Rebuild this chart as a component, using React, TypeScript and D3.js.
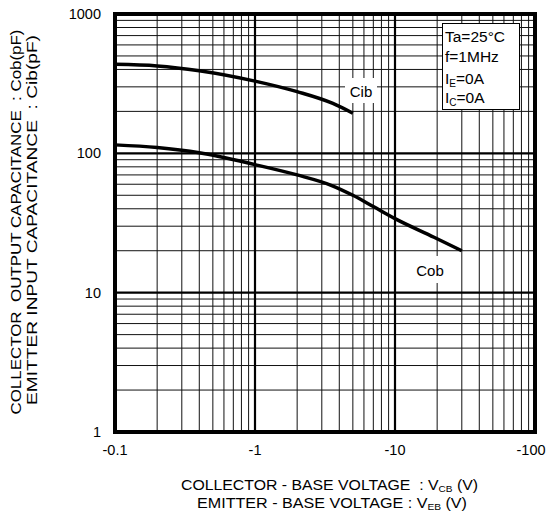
import React from "react";
import * as d3 from "d3";

// Capacitance vs. reverse voltage (magnitudes; axis labels carry the minus sign)
const cibVoltage = [0.1, 0.2, 0.4, 1, 2, 3.6, 5];
const cibValues = [435, 424, 392, 330, 277, 228, 194];
const cobVoltage = [0.1, 0.2, 0.4, 1, 2, 3.5, 5, 7, 10, 19, 30];
const cobValues = [115, 110, 101, 83, 70, 59, 50, 41.5, 34, 25, 20];

const xTickValues = [0.1, 1, 10, 100];
const xTickLabels = ["-0.1", "-1", "-10", "-100"];
const yTickValues = [1, 10, 100, 1000];
const yTickLabels = ["1", "10", "100", "1000"];

const conditions = ["Ta=25°C", "f=1MHz"];

const W = 552;
const H = 520;
const plot = { left: 115, right: 535, top: 14, bottom: 432 };
const FONT = "'Liberation Sans', Arial, sans-serif";

export default function App() {
  const x = d3.scaleLog().domain([0.1, 100]).range([plot.left, plot.right]);
  const y = d3.scaleLog().domain([1, 1000]).range([plot.bottom, plot.top]);

  const minorX: number[] = [];
  for (let d = 0.1; d < 100; d *= 10)
    for (let k = 2; k <= 9; k++) minorX.push(+(d * k).toPrecision(3));
  const minorY: number[] = [];
  for (let d = 1; d < 1000; d *= 10)
    for (let k = 2; k <= 9; k++) minorY.push(d * k);

  const line = d3
    .line<[number, number]>()
    .x((d) => x(d[0]))
    .y((d) => y(d[1]))
    .curve(d3.curveMonotoneX);

  const cib = line(cibVoltage.map((v, i) => [v, cibValues[i]] as [number, number]));
  const cob = line(cobVoltage.map((v, i) => [v, cobValues[i]] as [number, number]));

  return (
    <svg
      width={W}
      height={H}
      style={{ position: "absolute", left: 0, top: 0, background: "#fff" }}
      fontFamily={FONT}
    >
      <rect width={W} height={H} fill="#fff" />
      {/* minor grid */}
      {minorX.map((v) => (
        <line key={"mx" + v} x1={x(v)} x2={x(v)} y1={plot.top} y2={plot.bottom} stroke="#111" strokeWidth={1} />
      ))}
      {minorY.map((v) => (
        <line key={"my" + v} x1={plot.left} x2={plot.right} y1={y(v)} y2={y(v)} stroke="#111" strokeWidth={1} />
      ))}
      {/* decade grid */}
      {xTickValues.map((v) => (
        <line key={"Mx" + v} x1={x(v)} x2={x(v)} y1={plot.top} y2={plot.bottom} stroke="#000" strokeWidth={2.2} />
      ))}
      {yTickValues.map((v) => (
        <line key={"My" + v} x1={plot.left} x2={plot.right} y1={y(v)} y2={y(v)} stroke="#000" strokeWidth={2.2} />
      ))}

      {/* curves */}
      <path d={cib ?? ""} fill="none" stroke="#000" strokeWidth={3.5} />
      <path d={cob ?? ""} fill="none" stroke="#000" strokeWidth={3.5} />

      {/* curve labels */}
      <rect x={345} y={78} width={32} height={25} fill="#fff" />
      <text x={361} y={97} fontSize={15} textAnchor="middle">Cib</text>
      <rect x={412} y={256} width={37} height={27} fill="#fff" />
      <text x={430} y={276} fontSize={15} textAnchor="middle">Cob</text>

      {/* conditions box */}
      <rect x={442.5} y={23.5} width={77} height={86} fill="#fff" stroke="#000" strokeWidth={1} />
      {conditions.map((t, i) => (
        <text key={t} x={445} y={42 + i * 20} fontSize={15.5}>{t}</text>
      ))}
      <text x={445} y={84} fontSize={15.5}>
        I<tspan fontSize={10} dy={3}>E</tspan>
        <tspan dy={-3}>=0A</tspan>
      </text>
      <text x={445} y={103} fontSize={15.5}>
        I<tspan fontSize={10} dy={3}>C</tspan>
        <tspan dy={-3}>=0A</tspan>
      </text>

      {/* frame */}
      <rect
        x={plot.left}
        y={plot.top}
        width={plot.right - plot.left}
        height={plot.bottom - plot.top}
        fill="none"
        stroke="#000"
        strokeWidth={4}
      />

      {/* y tick labels */}
      {yTickValues.map((v, i) => (
        <text key={"yl" + v} x={101} y={y(v) + 5} fontSize={14.5} textAnchor="end">
          {yTickLabels[i]}
        </text>
      ))}
      {/* x tick labels */}
      {xTickValues.map((v, i) => (
        <text
          key={"xl" + v}
          x={x(v) - (i === xTickLabels.length - 1 ? 4 : 0)}
          y={455}
          fontSize={14.5}
          textAnchor="middle"
        >
          {xTickLabels[i]}
        </text>
      ))}

      {/* x axis title */}
      <text x={329.5} y={490} fontSize={15} textAnchor="middle" textLength={297} lengthAdjust="spacingAndGlyphs">
        COLLECTOR - BASE VOLTAGE{"\u00a0\u00a0"}: V<tspan fontSize={9.5} dy={2}>CB</tspan>
        <tspan dy={-2}> (V)</tspan>
      </text>
      <text x={332} y={508} fontSize={15} textAnchor="middle" textLength={270} lengthAdjust="spacingAndGlyphs">
        EMITTER - BASE VOLTAGE : V<tspan fontSize={9.5} dy={2}>EB</tspan>
        <tspan dy={-2}> (V)</tspan>
      </text>

      {/* y axis title */}
      <text
        transform="translate(21,222) rotate(-90)"
        fontSize={14.5}
        textAnchor="middle"
        textLength={385}
        lengthAdjust="spacingAndGlyphs"
      >
        COLLECTOR{"\u00a0\u00a0"}OUTPUT CAPACITANCE{"\u00a0\u00a0"}: Cob(pF)
      </text>
      <text
        transform="translate(37,220) rotate(-90)"
        fontSize={14.5}
        textAnchor="middle"
        textLength={370}
        lengthAdjust="spacingAndGlyphs"
      >
        EMITTER INPUT CAPACITANCE{"\u00a0\u00a0"}: Cib(pF)
      </text>
    </svg>
  );
}
